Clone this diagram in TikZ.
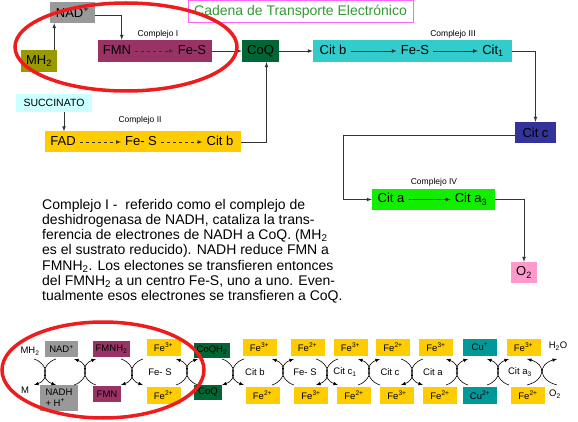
\documentclass[tikz,border=0pt]{standalone}
\usepackage{fontspec}
\setmainfont{Liberation Sans}
\usetikzlibrary{calc,positioning,arrows}
\definecolor{nadgray}{HTML}{999999}
\definecolor{mhol}{HTML}{999900}
\definecolor{fmnc}{HTML}{993366}
\definecolor{coqc}{HTML}{006633}
\definecolor{citbc}{HTML}{33CCCC}
\definecolor{citcc}{HTML}{333399}
\definecolor{citac}{HTML}{11EE00}
\definecolor{oxc}{HTML}{FF99CC}
\definecolor{succc}{HTML}{CCFFFF}
\definecolor{fadc}{HTML}{FFCC00}
\definecolor{cuc}{HTML}{009999}
\definecolor{titg}{HTML}{339933}
\definecolor{titm}{HTML}{FF66FF}
\definecolor{ringc}{HTML}{EE1C1C}
\tikzset{%
  >=latex,
  line/.style={draw, black!80, line width=0.7pt, ->},
  ia/.style={line, shorten <=3pt, shorten >=3pt},
  bx/.style={rectangle, inner sep=0pt, font=\fontsize{13}{15}\selectfont},
  ring/.style={draw=ringc, line width=3.5pt}
}
\begin{document}
\begin{tikzpicture}[x=1pt,y=-1pt,
	t/.style={inner sep=1pt,font=\fontsize{13}{15}\selectfont,%
		text height=9.5pt,text depth=2.5pt},%
	cx/.style={inner sep=0pt,font=\fontsize{8.5}{10}\selectfont},%
	sb/.style={rectangle,inner sep=0pt,minimum height=17pt,%
		font=\fontsize{9.5}{11}\selectfont},%
	fe/.style={sb,fill=fadc,minimum width=34pt},%
	lb/.style={inner sep=1pt,font=\fontsize{9.5}{11}\selectfont},%
	rx/.style={line width=0.6pt}]
	\useasboundingbox (0,0) rectangle (578,422);
	% title
	\node[draw=titm,text=titg,minimum width=225pt,minimum height=22pt,%
		font=\fontsize{14}{16}\selectfont] (title) at (300.5,11.5) {Cadena de Transporte Electrónico};
	% complejo I
	\node[bx,fill=nadgray,minimum width=45pt,minimum height=21pt] (nad) at (72.5,12.5) {NAD\textsuperscript{+}};
	\node[bx,fill=mhol,minimum width=36pt,minimum height=22pt] (mh2) at (39,61) {MH\textsubscript{2}};
	\node[bx,fill=fmnc,minimum width=114pt,minimum height=22pt] (cI) at (155,51) {};
	\node[t] (fmn) at (117,51) {FMN};
	\node[t] (fesI) at (192,51) {Fe-S};
	\node[cx] (lI) at (158,34) {Complejo I};
	\node[bx,fill=coqc,minimum width=37pt,minimum height=22pt] (coq) at (260.5,51) {CoQ};
	% complejo III
	\node[bx,fill=citbc,minimum width=199pt,minimum height=22pt] (cIII) at (412.5,51) {};
	\node[t] (citb) at (333,51) {Cit b};
	\node[t] (fesIII) at (415,51) {Fe-S};
	\node[t] (cit1) at (493,51) {Cit\textsubscript{1}};
	\node[cx] (lIII) at (453,34) {Complejo III};
	\node[bx,fill=citcc,minimum width=41pt,minimum height=21pt] (citc) at (535.5,132.5) {Cit c};
	% complejo IV
	\node[bx,fill=citac,minimum width=123pt,minimum height=21pt] (cIV) at (433.5,199.5) {};
	\node[t] (cita) at (391,199.5) {Cit a};
	\node[t] (cita3) at (471,199.5) {Cit a\textsubscript{3}};
	\node[cx] (lIV) at (434,182) {Complejo IV};
	\node[bx,fill=oxc,minimum width=26pt,minimum height=21pt] (o2) at (524,272.5) {O\textsubscript{2}};
	% complejo II
	\node[bx,fill=succc,minimum width=76pt,minimum height=18pt,%
		font=\fontsize{10.5}{12}\selectfont] (succ) at (54,103) {SUCCINATO};
	\node[bx,fill=fadc,minimum width=196pt,minimum height=21pt] (cII) at (143,142) {};
	\node[t] (fad) at (63,142) {FAD};
	\node[t] (fesII) at (141,142) {Fe- S};
	\node[t] (citbII) at (220,142) {Cit b};
	\node[cx] (lII) at (140,120) {Complejo II};
	% connectors
	\path ([xshift=-3pt]mh2.north east) coordinate (mhup);
	\path ([xshift=10pt]succ.south) coordinate (sdown);
	\draw[line] (mhup) -- (mhup |- nad.south);
	\draw[line] ([yshift=-3pt]nad.east) -| ([xshift=24pt]cI.north west);
	\draw[ia,dashed] (fmn) -- (fesI);
	\draw[line] (cI) -- (coq);
	\draw[line] (coq) -- (cIII);
	\draw[ia] (citb) -- (fesIII);
	\draw[ia] (fesIII) -- (cit1);
	\draw[line] (cIII.east) -| (citc.north);
	\draw[line] ([yshift=-3pt]citc.west) -| ([xshift=-28pt]cIV.west) -- (cIV.west);
	\draw[ia] (cita) -- (cita3);
	\draw[line] (cIV.east) -| (o2.north);
	\draw[line] (sdown) -- (sdown |- cII.north);
	\draw[ia,dashed] (fad) -- (fesII);
	\draw[ia,dashed] (fesII) -- (citbII);
	\draw[line] (cII.east) -| ([xshift=6pt]coq.south);
	% text
	\node[anchor=north west,inner sep=0pt,align=left,%
		font=\fontsize{14}{15.2}\selectfont] (txt) at (42,199) {Complejo I -\ \ referido como el complejo de\\
		deshidrogenasa de NADH, cataliza la trans-\\
		ferencia de electrones de NADH a CoQ. (MH\textsubscript{2}\\
		es el sustrato reducido). NADH reduce FMN a\\
		FMNH\textsubscript{2}. Los electones se transfieren entonces\\
		del FMNH\textsubscript{2} a un centro Fe-S, uno a uno. Even-\\
		tualmente esos electrones se transfieren a CoQ.};
	% bottom chain
	\node[lb] (t0) at (30,351) {MH\textsubscript{2}};
	\node[lb] (b0) at (25,390) {M};
	\node[sb,fill=nadgray,minimum width=33pt,minimum height=16pt] (t1) at (61.5,349) {NAD\textsuperscript{+}};
	\node[sb,fill=nadgray,minimum width=38pt,minimum height=26pt,align=left] (b1) at (59,398) {NADH\\+ H\textsuperscript{+}};
	\node[sb,fill=fmnc,minimum width=37pt,minimum height=16pt] (t2) at (111.5,349) {FMNH\textsubscript{2}};
	\node[sb,fill=fmnc,minimum width=28pt,minimum height=16pt] (b2) at (107,394) {FMN};
	\node[sb,fill=coqc,minimum width=36pt,minimum height=15pt] (t4) at (212,350.5) {CoQH\textsubscript{2}};
	\node[sb,fill=coqc,minimum width=28pt,minimum height=15pt] (b4) at (208,392.5) {CoQ};
	\foreach \i/\xt/\xb/\ot/\ob/\xm/\lab in {3/163.5/163.5/3/2/160/Fe- S,
		5/259.5/262.5/3/2/255/Cit b, 6/307.5/311/2/3/305/Fe- S,
		7/350.5/354/3/2/345/Cit c\textsubscript{1}, 8/393/397/2/3/390/Cit c,
		9/436/440/3/2/433/Cit a, 11/523.5/528/3/2/520/Cit a\textsubscript{3}} {
		\node[fe] (t\i) at (\xt,347) {Fe\textsuperscript{\ot+}};
		\node[lb] (m\i) at (\xm,372) {\lab};
		\node[fe] (b\i) at (\xb,395) {Fe\textsuperscript{\ob+}};
	}
	\node[sb,fill=cuc,minimum width=34pt] (t10) at (480,347) {Cu\textsuperscript{+}};
	\node[sb,fill=cuc,minimum width=34pt] (b10) at (480,395) {Cu\textsuperscript{2+}};
	\node[lb] (t12) at (558,346) {H\textsubscript{2}O};
	\node[lb] (b12) at (555,394) {O\textsubscript{2}};
	% crossing arrows
	\foreach \k/\cx/\tip/\w in {1/45/->/11, 2/85/<-/11, 3/132/->/11, 4/187/<-/11,
		5/233/->/11, 6/283/<-/11, 7/327/->/11, 8/369/<-/11, 9/412/->/11,
		10/457/<-/11, 11/498/<-/11, 12/542/<-/15} {
		\coordinate (k\k) at (\cx,372);
		\draw[rx,\tip] ([shift={(-\w,-13)}]k\k) .. controls +(\w+4,5) and +(\w+4,-5) .. ([shift={(-\w,13)}]k\k);
		\draw[rx,\tip] ([shift={(\w,-13)}]k\k) .. controls +(-\w-4,5) and +(-\w-4,-5) .. ([shift={(\w,13)}]k\k);
	}
	% red rings
	\draw[ring] (126,47) ellipse [x radius=111pt, y radius=44pt];
	\draw[ring] (103,370) ellipse [x radius=101pt, y radius=48pt];
\end{tikzpicture}
\end{document}
